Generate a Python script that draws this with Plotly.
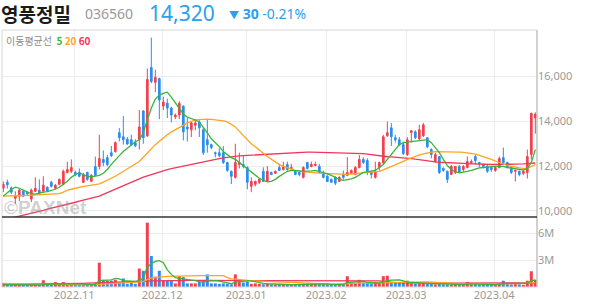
import plotly.graph_objects as go

# ---------------- data ----------------
opens = [
11020, 11280, 11030, 10570, 10660, 10880, 10830, 10530, 10880, 10930,
10880, 11060, 11280, 11020, 11190, 11190, 11720, 11770, 11720, 11720,
11280, 11720, 11325, 11980, 11990, 12300, 12380, 12600, 12650, 13490,
13310, 13200, 13180, 13050, 13180, 14460, 13360, 16400, 15740, 15900,
14680, 14810, 14590, 14200, 14280, 14680, 13750, 13620, 13830, 13970,
13620, 13180, 12960, 12600, 12600, 12600, 12160, 11770, 11500, 12080,
12075, 11940, 11100, 11190, 11280, 11770, 11320, 11720, 11680, 11940,
11850, 12075, 11880, 11770, 11720, 11500, 12160, 11980, 12030, 11990,
11720, 11550, 11410, 11500, 11320, 11630, 11590, 11680, 11630, 11940,
12300, 12250, 11720, 11500, 11940, 12160, 13360, 13710, 13270, 13180,
12960, 12520, 13500, 13530, 13220, 13360, 13270, 12740, 12210, 12430,
11900, 11770, 11630, 11720, 11990, 11850, 11940, 12160, 12430, 12160,
12075, 11990, 11940, 11810, 11940, 12380, 12160, 11940, 11770, 11770,
11680, 11720, 12520, 14150]

highs = [
11320, 11400, 11100, 10880, 11000, 10930, 10880, 11000, 11500, 11410,
11550, 11100, 11350, 11200, 11450, 11850, 12200, 12300, 11800, 11900,
11700, 11750, 11650, 12430, 13400, 12700, 12500, 12900, 13100, 13700,
14240, 13300, 13400, 13200, 14500, 14500, 16360, 17730, 16300, 15950,
15100, 15000, 14650, 14350, 14900, 14700, 14150, 14000, 14100, 14050,
13700, 14100, 13000, 12650, 12800, 12900, 12200, 11800, 13000, 12600,
12500, 11990, 11500, 11350, 11450, 11950, 12000, 11760, 11800, 12100,
12200, 12200, 12100, 11800, 11750, 11990, 12200, 12200, 12200, 12100,
11800, 11600, 11450, 11550, 11550, 11800, 12400, 11850, 12000, 12500,
12400, 12350, 11800, 12200, 12200, 13400, 13990, 13930, 13400, 13300,
13100, 13300, 13620, 13600, 13850, 13930, 13300, 12800, 12600, 12450,
11950, 11800, 12050, 12000, 12050, 12050, 12430, 12300, 12500, 12200,
12100, 12050, 11950, 12000, 12430, 12830, 12200, 12000, 11850, 11800,
11800, 12740, 14400, 14400]

lows = [
10840, 11000, 10750, 10300, 10450, 10620, 10700, 10400, 10850, 10750,
10800, 10850, 11050, 10950, 11150, 11150, 11680, 11700, 11550, 11500,
11250, 11350, 11300, 11550, 11850, 12000, 12000, 12400, 12600, 13100,
12960, 12950, 12900, 12850, 12740, 13000, 13300, 15700, 15300, 14100,
14500, 14150, 13950, 14100, 14100, 13150, 13100, 13300, 13600, 13300,
12500, 12600, 12750, 12400, 12400, 12100, 11750, 11200, 11450, 11900,
11900, 10970, 10840, 11100, 11200, 11300, 11300, 11600, 11650, 11780,
11800, 11800, 11820, 11600, 11550, 11450, 11850, 11950, 12000, 11700,
11450, 11300, 11250, 11150, 11300, 11400, 11550, 11650, 11600, 11900,
12100, 11600, 11450, 11450, 11800, 12100, 13300, 12900, 13050, 12900,
12500, 12450, 13050, 13200, 13150, 13300, 12800, 12350, 12150, 11650,
11750, 11250, 11600, 11650, 11700, 11750, 11900, 12100, 12075, 11950,
11900, 11700, 11750, 11750, 11900, 12100, 11900, 11650, 11320, 11550,
11600, 11450, 12300, 13450]

closes = [
11190, 11170, 10840, 10660, 10930, 10660, 10760, 10930, 11010, 10790,
11150, 10880, 11100, 11150, 11410, 11770, 11850, 11940, 11630, 11550,
11630, 11410, 11590, 11590, 12340, 12160, 12070, 12470, 13050, 13270,
13180, 12990, 12960, 12910, 13750, 13270, 15870, 15780, 15960, 14950,
14860, 14590, 14280, 14280, 14800, 13530, 13660, 13930, 13930, 13710,
12600, 12960, 12830, 12560, 12470, 12160, 11810, 11550, 12160, 12160,
11990, 11280, 11320, 11320, 11410, 11320, 11770, 11630, 11770, 11810,
11990, 11850, 11940, 11630, 11630, 11940, 11900, 12075, 12080, 11720,
11500, 11320, 11280, 11240, 11500, 11500, 11720, 11810, 11940, 12300,
12160, 11770, 11630, 11770, 12160, 13310, 13490, 13310, 13180, 12960,
12560, 13180, 13580, 13270, 13620, 13840, 12870, 12520, 12520, 11720,
11810, 11410, 11990, 11990, 11720, 11990, 12210, 12210, 12250, 12120,
11990, 11770, 11850, 11940, 12340, 12160, 11940, 11720, 11810, 11630,
11770, 12430, 14350, 14320]

ma5 = [
10660, 10800, 10970, 11060, 11015, 10930, 10840, 10770, 10750, 10800,
10840, 10860, 10900, 10970, 11060, 11190, 11330, 11500, 11630, 11700,
11630, 11550, 11520, 11550, 11590, 11680, 11850, 12080, 12300, 12470,
12650, 12800, 12960, 13090, 13180, 13490, 14060, 14590, 14990, 15170,
15250, 15300, 15080, 14810, 14590, 14330, 14190, 14130, 14060, 13970,
13750, 13490, 13220, 13050, 12870, 12650, 12520, 12380, 12300, 12160,
12030, 11900, 11770, 11590, 11460, 11370, 11300, 11325, 11410, 11545,
11660, 11770, 11810, 11810, 11790, 11770, 11770, 11790, 11810, 11770,
11720, 11660, 11590, 11500, 11410, 11370, 11390, 11435, 11500, 11630,
11720, 11745, 11770, 11810, 11940, 12075, 12300, 12520, 12740, 12960,
13050, 13070, 13090, 13090, 13110, 13160, 13180, 13050, 12830, 12600,
12300, 12030, 11850, 11745, 11700, 11720, 11770, 11810, 11880, 11920,
11940, 11965, 11965, 11990, 11990, 11990, 11940, 11920, 11880, 11850,
11830, 11900, 12160, 12740]

ma20 = [
10660, 10660, 10660, 10670, 10680, 10690, 10700, 10705, 10710, 10720,
10730, 10740, 10750, 10760, 10770, 10840, 10930, 10970, 11020, 11060,
11100, 11125, 11150, 11180, 11210, 11290, 11370, 11460, 11550, 11660,
11770, 11880, 11990, 12100, 12210, 12400, 12600, 12780, 12960, 13110,
13270, 13400, 13530, 13620, 13710, 13820, 13930, 14000, 14060, 14080,
14100, 14100, 14085, 14070, 14060, 14020, 13975, 13860, 13750, 13550,
13355, 13180, 13000, 12870, 12740, 12580, 12430, 12300, 12160, 12070,
11990, 11920, 11850, 11810, 11770, 11750, 11720, 11710, 11700, 11690,
11680, 11670, 11660, 11645, 11630, 11630, 11630, 11650, 11680, 11690,
11700, 11710, 11720, 11745, 11770, 11830, 11900, 11990, 12075, 12140,
12210, 12300, 12380, 12440, 12500, 12550, 12600, 12630, 12650, 12650,
12650, 12650, 12650, 12640, 12630, 12615, 12600, 12570, 12540, 12480,
12430, 12360, 12300, 12230, 12160, 12100, 12030, 11990, 11940, 11920,
11900, 11900, 11990, 12075]

ma60 = [
9600, 9640, 9690, 9730, 9770, 9810, 9850, 9900, 9940, 9990,
10030, 10080, 10120, 10170, 10210, 10260, 10300, 10350, 10390, 10440,
10480, 10530, 10570, 10620, 10660, 10740, 10820, 10900, 10980, 11060,
11140, 11220, 11300, 11370, 11440, 11510, 11570, 11630, 11690, 11740,
11800, 11850, 11890, 11930, 11970, 12010, 12050, 12090, 12120, 12160,
12200, 12240, 12280, 12310, 12340, 12370, 12400, 12430, 12445, 12460,
12470, 12480, 12490, 12500, 12510, 12520, 12540, 12560, 12580, 12590,
12600, 12610, 12615, 12620, 12625, 12630, 12630, 12625, 12620, 12615,
12610, 12605, 12605, 12605, 12605, 12605, 12600, 12595, 12585, 12575,
12560, 12540, 12510, 12480, 12450, 12430, 12420, 12410, 12400, 12390,
12380, 12360, 12340, 12310, 12280, 12250, 12230, 12210, 12190, 12175,
12160, 12150, 12140, 12130, 12125, 12120, 12110, 12100, 12090, 12080,
12075, 12075, 12075, 12075, 12075, 12075, 12080, 12085, 12090, 12095,
12100, 12110, 12125, 12140]

volumes = [
450000, 200000, 250000, 300000, 250000, 200000, 150000, 250000, 300000, 250000,
750000, 200000, 200000, 550000, 300000, 550000, 350000, 300000, 300000, 250000,
250000, 200000, 250000, 400000, 2700000, 800000, 700000, 700000, 800000, 500000,
950000, 350000, 500000, 350000, 2050000, 1800000, 7150000, 3450000, 1150000, 1800000,
750000, 750000, 750000, 400000, 1200000, 1100000, 400000, 400000, 400000, 600000,
700000, 1400000, 400000, 400000, 350000, 400000, 350000, 300000, 1400000, 700000,
500000, 600000, 350000, 400000, 350000, 300000, 350000, 300000, 250000, 300000,
250000, 300000, 250000, 300000, 250000, 350000, 400000, 400000, 400000, 350000,
300000, 250000, 250000, 300000, 300000, 300000, 1200000, 350000, 400000, 800000,
500000, 400000, 350000, 550000, 350000, 1200000, 1250000, 550000, 500000, 450000,
500000, 700000, 400000, 350000, 400000, 450000, 350000, 350000, 300000, 350000,
300000, 300000, 250000, 300000, 250000, 300000, 550000, 300000, 350000, 250000,
250000, 250000, 250000, 250000, 350000, 700000, 450000, 300000, 350000, 300000,
250000, 700000, 1750000, 800000]

vol_ma5 = [
250000, 240000, 230000, 230000, 240000, 220000, 200000, 200000, 210000, 220000,
300000, 320000, 330000, 360000, 380000, 360000, 380000, 360000, 350000, 330000,
290000, 270000, 250000, 270000, 700000, 720000, 750000, 800000, 950000, 900000,
700000, 650000, 620000, 620000, 700000, 1000000, 2200000, 2600000, 2850000, 2920000,
2700000, 1900000, 1400000, 1050000, 950000, 900000, 800000, 750000, 700000, 600000,
550000, 650000, 700000, 700000, 650000, 550000, 400000, 360000, 550000, 620000,
650000, 680000, 680000, 580000, 460000, 400000, 360000, 330000, 300000, 300000,
290000, 280000, 270000, 280000, 270000, 290000, 310000, 350000, 370000, 380000,
370000, 340000, 300000, 280000, 280000, 280000, 500000, 520000, 520000, 600000,
640000, 500000, 490000, 510000, 420000, 560000, 720000, 760000, 760000, 780000,
680000, 540000, 520000, 480000, 470000, 460000, 390000, 370000, 370000, 350000,
330000, 320000, 300000, 290000, 280000, 280000, 340000, 340000, 350000, 350000,
340000, 330000, 280000, 250000, 270000, 360000, 400000, 410000, 430000, 420000,
370000, 400000, 680000, 780000]

vol_ma20 = [
400000, 390000, 380000, 360000, 340000, 320000, 300000, 280000, 260000, 250000,
250000, 240000, 230000, 230000, 230000, 230000, 230000, 230000, 230000, 230000,
240000, 240000, 240000, 250000, 300000, 330000, 350000, 380000, 400000, 420000,
450000, 460000, 480000, 490000, 560000, 620000, 850000, 1000000, 1050000, 1130000,
1150000, 1180000, 1200000, 1220000, 1250000, 1260000, 1270000, 1270000, 1270000, 1270000,
1270000, 1280000, 1280000, 1280000, 1270000, 1260000, 1050000, 900000, 880000, 800000,
750000, 720000, 700000, 680000, 660000, 640000, 600000, 560000, 540000, 520000,
500000, 480000, 460000, 440000, 420000, 400000, 390000, 380000, 370000, 360000,
350000, 340000, 330000, 330000, 330000, 330000, 380000, 390000, 400000, 420000,
430000, 430000, 440000, 450000, 450000, 500000, 540000, 560000, 560000, 570000,
570000, 580000, 580000, 580000, 580000, 580000, 570000, 540000, 500000, 470000,
450000, 440000, 420000, 400000, 390000, 380000, 380000, 370000, 360000, 350000,
340000, 340000, 330000, 330000, 330000, 340000, 350000, 350000, 360000, 370000,
370000, 380000, 450000, 480000]

vol_ma60 = [
330000, 330000, 330000, 330000, 330000, 330000, 335000, 340000, 345000, 350000,
355000, 360000, 365000, 370000, 375000, 380000, 385000, 390000, 395000, 400000,
410000, 420000, 430000, 440000, 480000, 490000, 500000, 510000, 520000, 530000,
540000, 550000, 560000, 570000, 590000, 610000, 650000, 690000, 700000, 720000,
720000, 720000, 725000, 725000, 730000, 730000, 730000, 730000, 730000, 730000,
730000, 740000, 740000, 740000, 740000, 740000, 740000, 740000, 750000, 750000,
750000, 750000, 750000, 750000, 750000, 750000, 750000, 740000, 740000, 740000,
740000, 740000, 740000, 740000, 740000, 740000, 740000, 740000, 740000, 740000,
740000, 740000, 740000, 740000, 740000, 730000, 730000, 730000, 720000, 720000,
720000, 710000, 700000, 690000, 680000, 620000, 560000, 520000, 480000, 470000,
460000, 450000, 450000, 450000, 450000, 450000, 450000, 450000, 450000, 450000,
440000, 440000, 440000, 440000, 440000, 440000, 440000, 440000, 440000, 440000,
430000, 430000, 430000, 430000, 430000, 430000, 430000, 430000, 430000, 430000,
430000, 430000, 440000, 450000]

month_start_idx = [18, 40, 61, 81, 101, 123]
month_labels = ["2022.11", "2022.12", "2023.01", "2023.02", "2023.03", "2023.04"]
price_ticks = [10000, 12000, 14000, 16000]
vol_ticks = [3000000, 6000000]
vol_tick_labels = ["3M", "6M"]

stock_name = "영풍정밀"
stock_code = "036560"
last_price = "14,320"
change_text = "30"
change_pct = "-0.21%"

# ---------------- styling ----------------
UP = "#f4404d"
DOWN = "#2b8ef0"
C5 = "#38b53a"
C20 = "#ffa41f"
C60 = "#f2355b"
GRID = "#ececec"
TICK = "#9a9a9a"
FONT = "Noto Sans, Noto Sans CJK KR, sans-serif"

idx = list(range(len(closes)))
vol_colors = [UP if c >= o else DOWN for o, c in zip(opens, closes)]

fig = go.Figure()

fig.add_trace(go.Candlestick(
    x=idx, open=opens, high=highs, low=lows, close=closes,
    xaxis="x2", yaxis="y",
    increasing=dict(line=dict(color=UP, width=1), fillcolor=UP),
    decreasing=dict(line=dict(color=DOWN, width=1), fillcolor=DOWN),
    whiskerwidth=0, showlegend=False, hoverinfo="skip",
))
for vals, col in [(ma60, C60), (ma20, C20), (ma5, C5)]:
    fig.add_trace(go.Scatter(x=idx, y=vals, mode="lines", xaxis="x2", yaxis="y",
                             line=dict(color=col, width=1.3), showlegend=False,
                             hoverinfo="skip"))

fig.add_trace(go.Bar(x=idx, y=volumes, xaxis="x", yaxis="y2",
                     marker=dict(color=vol_colors, line=dict(width=0)),
                     showlegend=False, hoverinfo="skip"))
for vals, col in [(vol_ma60, C60), (vol_ma20, C20), (vol_ma5, C5)]:
    fig.add_trace(go.Scatter(x=idx, y=vals, mode="lines", xaxis="x", yaxis="y2",
                             line=dict(color=col, width=1.3), showlegend=False,
                             hoverinfo="skip"))

W, H = 594, 304
ML, MR, MT, MB = 2, 57, 30, 17
PW, PH = W - ML - MR, H - MT - MB
split_px = 217
split = (H - MB - split_px) / PH

def px_x(px):
    return (px - ML) / PW

def px_y(py):
    return (H - MB - py) / PH

xrange_ = [-0.33, len(closes) - 0.58]
tickpos = [m - 0.3 for m in month_start_idx]

fig.update_layout(
    width=W, height=H,
    margin=dict(l=ML, r=MR, t=MT, b=MB),
    paper_bgcolor="white", plot_bgcolor="white",
    font=dict(family=FONT, color=TICK, size=11),
    bargap=0.25, boxgap=0.4,
    xaxis=dict(domain=[0, 1], anchor="y2", range=xrange_, tickmode="array",
               tickvals=tickpos, ticktext=month_labels, showgrid=True,
               gridcolor=GRID, gridwidth=1, zeroline=False, showline=False,
               ticks="", tickfont=dict(size=11, color=TICK), fixedrange=True),
    xaxis2=dict(domain=[0, 1], anchor="y", matches="x", range=xrange_,
                tickmode="array", tickvals=tickpos, showticklabels=False,
                showgrid=True, gridcolor=GRID, gridwidth=1, zeroline=False,
                showline=False, ticks="", rangeslider=dict(visible=False)),
    yaxis=dict(domain=[split, 1], side="right", range=[9732, 18074],
               tickmode="array", tickvals=price_ticks, tickformat=",d",
               showgrid=True, gridcolor=GRID, zeroline=False, showline=False,
               ticks="", tickfont=dict(size=11, color=TICK)),
    yaxis2=dict(domain=[0, split], side="right", range=[0, 7780000],
                tickmode="array", tickvals=vol_ticks, ticktext=vol_tick_labels,
                showgrid=True, gridcolor=GRID, zeroline=False, showline=False,
                ticks="", tickfont=dict(size=11, color=TICK)),
)

# frame and separator
fig.add_shape(type="rect", xref="paper", yref="paper", x0=0, x1=1, y0=0, y1=1,
              line=dict(color="#d6d6d6", width=1), layer="above")
fig.add_shape(type="line", xref="paper", yref="paper", x0=1, x1=1, y0=0, y1=1,
              line=dict(color="#b8b8b8", width=1), layer="above")
fig.add_shape(type="line", xref="paper", yref="paper", x0=0, x1=1, y0=split, y1=split,
              line=dict(color="#333333", width=1.5), layer="above")

ann = []
# header
ann.append(dict(text="<b>" + stock_name + "</b>", x=px_x(0), y=px_y(13),
                font=dict(size=19, color="#1a1a1a", family="Noto Sans CJK KR")))
ann.append(dict(text=stock_code, x=px_x(84), y=px_y(13.5),
                font=dict(size=14, color="#999999", family=FONT)))
ann.append(dict(text=last_price, x=px_x(148), y=px_y(12.5),
                font=dict(size=21, color="#2aa0f0", family=FONT)))
ann.append(dict(text="<span style='font-size:10px'>▼</span> <b>" + change_text +
                "</b> " + change_pct, x=px_x(228), y=px_y(13),
                font=dict(size=14, color="#2aa0f0", family=FONT)))
# MA legend
ann.append(dict(text="이동평균선  <span style='color:%s'><b>5</b></span> "
                     "<span style='color:%s'><b>20</b></span> "
                     "<span style='color:%s'><b>60</b></span>" % (C5, C20, C60),
                x=px_x(5), y=px_y(41),
                font=dict(size=10, color="#8c8c8c", family="Noto Sans CJK KR")))
# watermark
ann.append(dict(text="<b>©PAXNet</b>", x=px_x(3), y=px_y(207),
                font=dict(size=19, color="rgba(150,150,150,0.45)",
                          family="Liberation Sans")))
for a in ann:
    a.update(xref="paper", yref="paper", xanchor="left", yanchor="middle",
             showarrow=False, borderpad=0)
fig.update_layout(annotations=ann)

fig.write_html("out.html", config={"displayModeBar": False})
